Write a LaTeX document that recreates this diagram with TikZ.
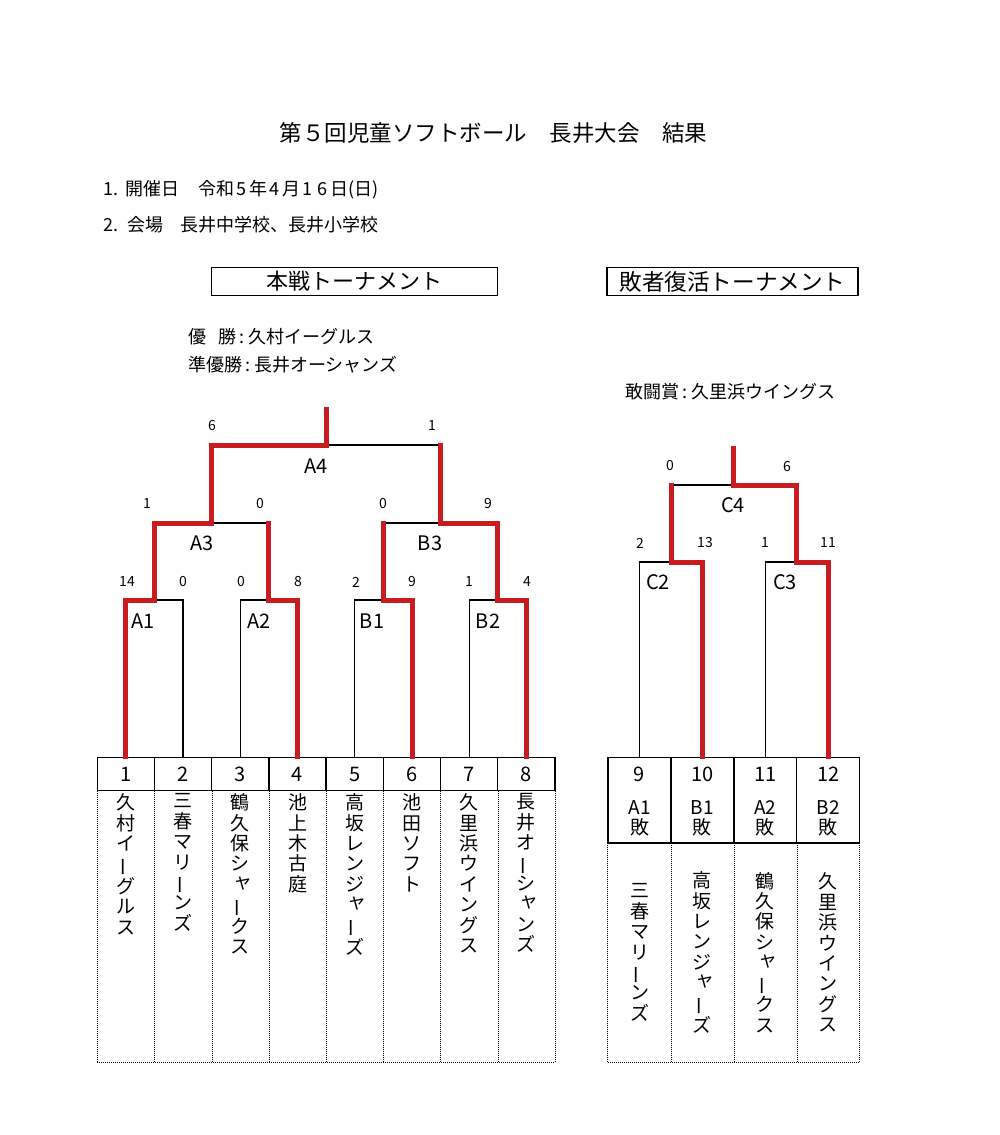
\documentclass[tikz,border=0pt]{standalone}
\usepackage{graphicx}
\usepackage{fontspec}
\setmainfont{Noto Sans CJK JP}
\definecolor{wincol}{RGB}{200,28,32}
% vertical-writing helpers: long vowel mark turned upright, small kana moved up-right
\newcommand\vchoon{\rotatebox[origin=c]{90}{ー}}
\newcommand\vsmall[1]{\makebox[1em][l]{\hspace{0.13em}\smash{\raisebox{0.17em}{#1}}}}
\newcommand\wdig[1]{\makebox[15pt][c]{#1}}
\begin{document}
\begin{tikzpicture}[x=1pt,y=-1pt,
  lose/.style={line width=1.3pt, black},
  win/.style={line width=5pt, wincol, line cap=rect, line join=miter},
  score/.style={font=\fontsize{14}{14}\selectfont, inner sep=0},
  mlabel/.style={font=\fontsize{20}{20}\selectfont, inner sep=0},
  info/.style={font=\fontsize{18}{18}\selectfont, inner sep=0, anchor=west},
  prize/.style={font=\fontsize{18}{18}\selectfont, inner sep=0, anchor=west},
  headbox/.style={draw, line width=1.4pt, minimum height=27.5pt, inner sep=0},
  hcell/.style={draw, line width=1.3pt, minimum width=57.21pt, minimum height=33.4pt, inner sep=0, font=\fontsize{20}{20}\selectfont},
  ncell/.style={minimum width=57.21pt, minimum height=271.3pt, inner sep=0},
  rcell/.style={draw, line width=1.3pt, minimum width=62.9pt, minimum height=85.7pt, inner sep=0},
  rncell/.style={minimum width=62.9pt, minimum height=219pt, inner sep=0},
  vname/.style={font=\fontsize{19}{20.4}\selectfont, align=center, inner sep=0},
  rtxt/.style={font=\fontsize{20}{20}\selectfont, inner sep=0},
  rtxt2/.style={font=\fontsize{19}{20}\selectfont, align=center, inner sep=0},
  dotline/.style={line width=0.8pt, dash pattern=on 1pt off 1pt}
]
\useasboundingbox (0,0) rectangle (1000,1135);
\fill[white] (0,0) rectangle (1000,1135);

% ---------- titles ----------
\node[font=\fontsize{22.5}{22.5}\selectfont, inner sep=0, anchor=west] (title) at (279.5,133)
  {第５回児童ソフトボール　長井大会　結果};
\node[info] (d1) at (103,190) {1.\hspace{7pt}開催日\hspace{19pt}令和\wdig{5}年\wdig{4}月\wdig{1}\wdig{6}日(日)};
\node[info] (d2) at (103,225) {2.\hspace{9pt}会場\hspace{17pt}長井中学校、長井小学校};

\node[headbox, minimum width=286pt, font=\fontsize{22}{22}\selectfont] (hb1) at (354.5,281.5) {本戦トーナメント};
\node[headbox, minimum width=251pt, font=\fontsize{22.6}{22.6}\selectfont] (hb2) at (732.5,281.5) {敗者復活トーナメント};

\node[prize] (p1) at (188,337) {優\hspace{12pt}勝\makebox[12pt][c]{:}久村イーグルス};
\node[prize] (p2) at (188,365) {準優勝\makebox[12pt][c]{:}長井オーシャンズ};
\node[prize] (p3) at (625,392) {敢闘賞\makebox[12pt][c]{:}久里浜ウイングス};

% ---------- main table ----------
\foreach \i/\x in {1/125.9,2/183.1,3/240.3,4/297.5,5/354.8,6/412.0,7/469.2,8/526.4}{
  \node[hcell] (h\i) at (\x,774) {\i};
  \node[ncell] (n\i) at (\x,926.35) {};
}
\draw[dotline] (n1.north west) -- (n1.south west) -- (n8.south east) -- (n8.north east);
\foreach \i in {1,...,7}{ \draw[dotline] (n\i.north east) -- (n\i.south east); }

\node[vname, anchor=north] (t1) at ([yshift=-3pt]n1.north) {久\\村\\イ\\\vchoon\\グ\\ル\\ス};
\node[vname, anchor=north] (t2) at ([yshift=-3pt]n2.north) {三\\春\\マ\\リ\\\vchoon\\ン\\ズ};
\node[vname, anchor=north] (t3) at ([yshift=-3pt]n3.north) {鶴\\久\\保\\シ\\\vsmall{ャ}\\\vchoon\\ク\\ス};
\node[vname, anchor=north] (t4) at ([yshift=-3pt]n4.north) {池\\上\\木\\古\\庭};
\node[vname, anchor=north] (t5) at ([yshift=-3pt]n5.north) {高\\坂\\レ\\ン\\ジ\\\vsmall{ャ}\\\vchoon\\ズ};
\node[vname, anchor=north] (t6) at ([yshift=-3pt]n6.north) {池\\田\\ソ\\フ\\ト};
\node[vname, anchor=north] (t7) at ([yshift=-3pt]n7.north) {久\\里\\浜\\ウ\\イ\\ン\\グ\\ス};
\node[vname, anchor=north] (t8) at ([yshift=-3pt]n8.north) {長\\井\\オ\\\vchoon\\シ\\\vsmall{ャ}\\ン\\ズ};

% ---------- main bracket ----------
\coordinate (a1) at (154.5,600);
\coordinate (a2) at (268.9,600);
\coordinate (b1) at (383.4,600);
\coordinate (b2) at (497.8,600);
\coordinate (a3) at (211.7,523);
\coordinate (b3) at (440.6,523);
\coordinate (a4) at (326.2,445);
\coordinate (champ) at (326.2,409);

\draw[lose] (h2.north) |- (a1);
\draw[lose] (h3.north) |- (a2);
\draw[lose] (h5.north) |- (b1);
\draw[lose] (h7.north) |- (b2);
\draw[lose] (a3) -- (a3 -| a2);
\draw[lose] (b3) -- (b3 -| b1);
\draw[lose] (a4) -- (a4 -| b3);

\draw[win] (h1.north) |- (a1) |- (a3) |- (a4) -- (champ);
\draw[win] (h4.north) |- (a2) -- (a2 |- a3);
\draw[win] (h6.north) |- (b1) -- (b1 |- b3);
\draw[win] (h8.north) |- (b2) |- (b3) -- (b3 |- a4);

\node[score] (s1) at (127,582) {14};
\node[score] (s2) at (183,582) {0};
\node[score] (s3) at (241,582) {0};
\node[score] (s4) at (298,582) {8};
\node[score] (s5) at (356,582) {2};
\node[score] (s6) at (412,582) {9};
\node[score] (s7) at (469,582) {1};
\node[score] (s8) at (527,582) {4};
\node[score] (s9) at (147,504) {1};
\node[score] (s10) at (260,504) {0};
\node[score] (s11) at (383,504) {0};
\node[score] (s12) at (488,504) {9};
\node[score] (s13) at (212,426) {6};
\node[score] (s14) at (432,426) {1};

\node[mlabel] (lA1) at (143,621) {A1};
\node[mlabel] (lA2) at (259,621) {A2};
\node[mlabel] (lB1) at (372,621) {B1};
\node[mlabel] (lB2) at (488,621) {B2};
\node[mlabel] (lA3) at (202,543) {A3};
\node[mlabel] (lB3) at (430,543) {B3};
\node[mlabel] (lA4) at (316,466) {A4};

% ---------- repechage table ----------
\foreach \i/\x/\g in {9/639.5/A1,10/702.4/B1,11/765.3/A2,12/828.2/B2}{
  \node[rcell] (r\i) at (\x,800.15) {};
  \node[rtxt] (rn\i) at (\x,774) {\i};
  \node[rtxt2] (rg\i) at (\x,818) {\g\\敗};
  \node[rncell] (q\i) at (\x,952.5) {};
}
\draw[dotline] (q9.north west) -- (q9.south west) -- (q12.south east) -- (q12.north east);
\foreach \i in {9,10,11}{ \draw[dotline] (q\i.north east) -- (q\i.south east); }

\node[vname] (u9) at (q9) {三\\春\\マ\\リ\\\vchoon\\ン\\ズ};
\node[vname] (u10) at (q10) {高\\坂\\レ\\ン\\ジ\\\vsmall{ャ}\\\vchoon\\ズ};
\node[vname] (u11) at (q11) {鶴\\久\\保\\シ\\\vsmall{ャ}\\\vchoon\\ク\\ス};
\node[vname] (u12) at (q12) {久\\里\\浜\\ウ\\イ\\ン\\グ\\ス};

% ---------- repechage bracket ----------
\coordinate (c2) at (671,562);
\coordinate (c3) at (796.7,562);
\coordinate (c4) at (733.9,485);
\coordinate (cchamp) at (733.9,448);

\draw[lose] (r9.north) |- (c2);
\draw[lose] (r11.north) |- (c3);
\draw[lose] (c4) -- (c4 -| c2);

\draw[win] (r10.north) |- (c2) -- (c2 |- c4);
\draw[win] (r12.north) |- (c3) |- (c4) -- (cchamp);

\node[score] (s15) at (670,466) {0};
\node[score] (s16) at (787,467) {6};
\node[score] (s17) at (640,543) {2};
\node[score] (s18) at (705,543) {13};
\node[score] (s19) at (765,543) {1};
\node[score] (s20) at (828,543) {11};

\node[mlabel] (lC4) at (733,505) {C4};
\node[mlabel] (lC2) at (658,582) {C2};
\node[mlabel] (lC3) at (785,582) {C3};
\end{tikzpicture}
\end{document}
